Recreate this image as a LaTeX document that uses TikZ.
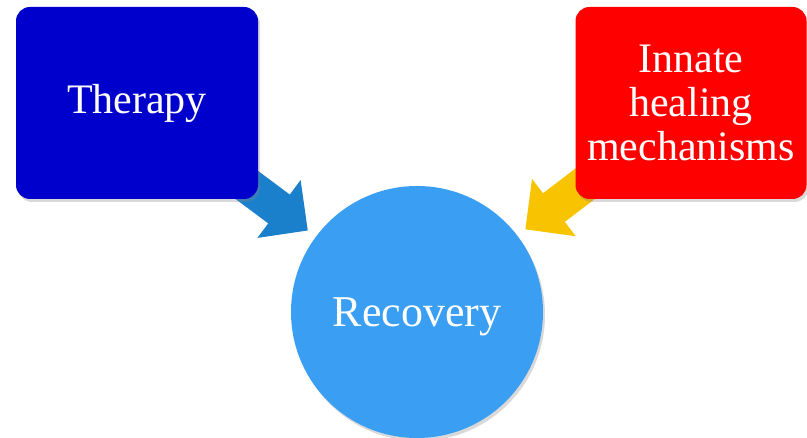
\documentclass[tikz,border=0pt]{standalone}
\usepackage{fontspec}
\setmainfont{Liberation Serif}
\usetikzlibrary{arrows.meta,shadows,backgrounds}
\definecolor{boxblue}{RGB}{0,0,205}
\definecolor{boxred}{RGB}{255,0,0}
\definecolor{ballblue}{RGB}{58,158,242}
\definecolor{arrblue}{RGB}{26,128,204}
\definecolor{arryellow}{RGB}{248,195,0}
\begin{document}
\begin{tikzpicture}[x=1pt,y=1pt, every node/.style={text=white,align=center,
                      font=\fontsize{42}{44}\selectfont,
                      drop shadow={opacity=.3,shadow xshift=2pt,shadow yshift=-3pt}},
                    card/.style={rounded corners=14pt,minimum height=192pt},
                    ball/.style={circle,minimum size=252pt,fill=ballblue,
                      font=\fontsize{44}{46}\selectfont,text height=40pt,text depth=10pt},
                    fat/.style={line width=36pt,-{Triangle[width=70pt,length=36pt]},
                      shorten >=10pt}]
                  \useasboundingbox (0,0) rectangle (807,438);
                  \node[card,fill=boxblue,minimum width=242pt] (therapy) at (137,335) {Therapy};
                  \node[card,fill=boxred,minimum width=231pt] (innate) at (691,335) {Innate\\healing\\mechanisms};
                  \node[ball] (recovery) at (417,126) {Recovery};
                  \begin{scope}[on background layer]
                  \draw[fat,arrblue] (therapy.center) -- (recovery);
                  \draw[fat,arryellow] (innate.center) -- (recovery);
                  \end{scope}
              \end{tikzpicture}
\end{document}
